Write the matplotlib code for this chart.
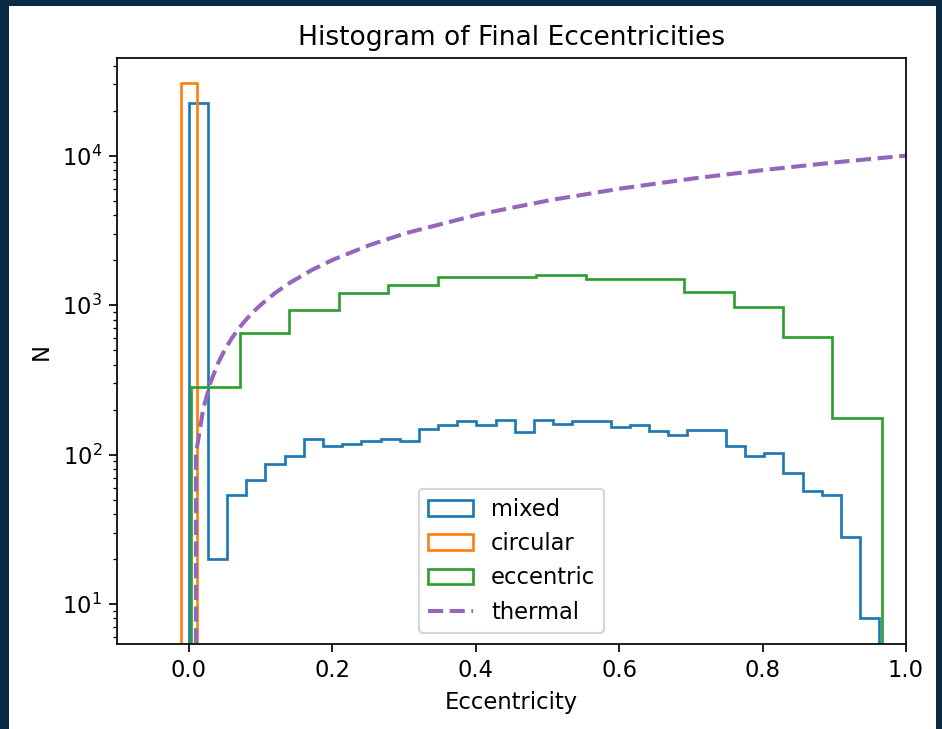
import numpy as np
import matplotlib
matplotlib.use("Agg")
import matplotlib.pyplot as plt
from matplotlib.patches import Rectangle

# ---- data ----
mixed_counts = [22400, 20, 54, 68, 87, 98, 127, 114, 117, 124, 127, 124, 148, 158,
                167, 158, 171, 141, 171, 160, 168, 168, 152, 158, 143, 136, 145, 145,
                114, 98, 103, 75, 57, 54, 28, 8]
mixed_range = (0.0, 0.9627)

circular_counts = [30500]
circular_range = (-0.0112, 0.0116)

eccentric_counts = [283, 648, 934, 1205, 1362, 1540, 1540, 1585, 1499, 1499,
                    1226, 964, 616, 176]
eccentric_range = (0.0028, 0.9661)

thermal_e = [0.0, 0.0101, 0.0202, 0.0303, 0.0404, 0.0505, 0.0606, 0.0707, 0.0808,
             0.0909, 0.101, 0.1212, 0.1414, 0.1717, 0.202, 0.2525, 0.303, 0.404,
             0.505, 0.606, 0.707, 0.808, 0.909, 1.0]
thermal_n = [0.0, 101, 202, 303, 404, 505, 606, 707, 808, 909, 1010, 1212, 1414,
             1717, 2020, 2525, 3030, 4040, 5050, 6060, 7070, 8080, 9090, 10000]

labels = ["mixed", "circular", "eccentric", "thermal"]


def centers(rng, n):
    edges = np.linspace(rng[0], rng[1], n + 1)
    return 0.5 * (edges[:-1] + edges[1:])


plt.rcParams["font.size"] = 10.5
plt.rcParams["axes.titlesize"] = 12.3

dpi = 155
fig = plt.figure(figsize=(942 / dpi, 729 / dpi), dpi=dpi, facecolor="#0a2a44")
fig.patches.append(Rectangle((9 / 942, 0), (936 - 9) / 942, 1 - 6 / 729,
                             transform=fig.transFigure, facecolor="white",
                             edgecolor="none", zorder=-10))
ax = fig.add_axes([117 / 942, 1 - 644 / 729, (906 - 117) / 942, (644 - 58) / 729])
ax.set_yscale("log")

lw = 1.25
ax.hist(centers(mixed_range, len(mixed_counts)), bins=len(mixed_counts),
        range=mixed_range, weights=mixed_counts, histtype="step", lw=lw,
        label=labels[0])
ax.hist(centers(circular_range, len(circular_counts)), bins=len(circular_counts),
        range=circular_range, weights=circular_counts, histtype="step", lw=lw,
        label=labels[1])
ax.hist(centers(eccentric_range, len(eccentric_counts)), bins=len(eccentric_counts),
        range=eccentric_range, weights=eccentric_counts, histtype="step", lw=lw,
        label=labels[2])
ax.plot(thermal_e, thermal_n, "--", color="C4", lw=1.9, label=labels[3])

ax.set_xlim(-0.1, 1.0)
ax.set_ylim(5.4, 45000)
ax.set_xlabel("Eccentricity")
ax.set_ylabel("N")
ax.set_title("Histogram of Final Eccentricities")
ax.legend(loc="lower center")

fig.savefig("out.png", dpi=dpi, facecolor=fig.get_facecolor())
